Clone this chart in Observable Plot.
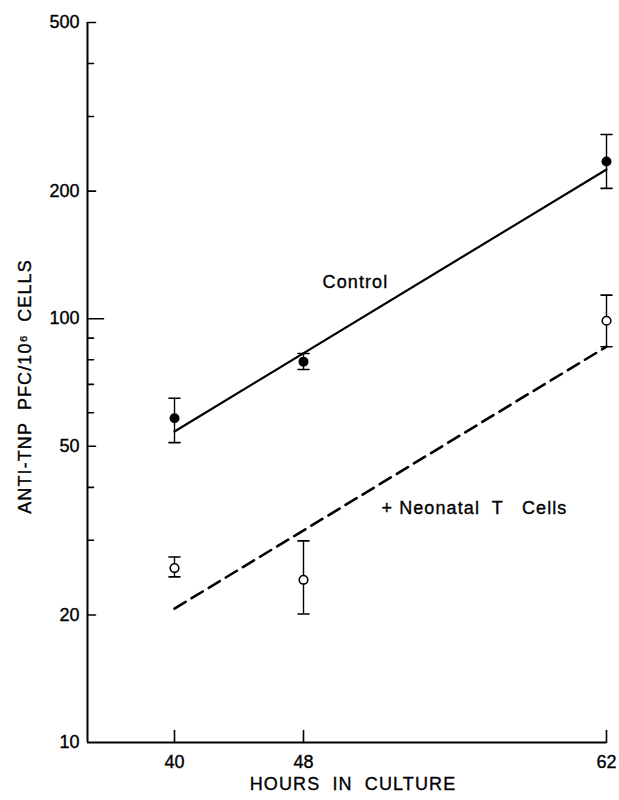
<!DOCTYPE html>
<html><head><meta charset="utf-8">
<script src="https://cdn.jsdelivr.net/npm/d3@7"></script>
<script src="https://cdn.jsdelivr.net/npm/@observablehq/plot@0.6"></script>
<style>
body{margin:0;background:#fff;}
svg text{white-space:pre;stroke:#000;stroke-width:0.35px;}
</style></head><body><div id="chart"></div>
<script>
// Data
const hours = [40, 48, 62];
const controlMean = [58.2, 79.2, 235];
const controlLow = [51.0, 75.9, 203];
const controlHigh = [64.9, 82.8, 272];
const neoMean = [25.8, 24.2, 98.9];
const neoLow = [24.6, 20.1, 85.9];
const neoHigh = [27.4, 29.9, 113.7];
const fitHours = [40, 62];
const controlFit = [54.2, 225];
const neoFit = [20.7, 85.9];
const yTickValues = [10, 20, 50, 100, 200, 500];
const yMinorValues = [30, 40, 60, 70, 80, 90, 300, 400];
const xTickValues = [40, 48, 62];
const xDomain = [34.6, 40, 48, 62];
const controlLabel = "Control";
const neoLabel = "+ Neonatal  T   Cells";
const yTitle = "ANTI-TNP  PFC/10⁶  CELLS";
const xTitle = "HOURS  IN  CULTURE";
const controlLabelAt = {h: 50.4, v: 122};
const neoLabelAt = {h: 51.6, v: 35.7};

const control = hours.map((h, i) => ({h, m: controlMean[i], lo: controlLow[i], hi: controlHigh[i]}));
const neo = hours.map((h, i) => ({h, m: neoMean[i], lo: neoLow[i], hi: neoHigh[i]}));
const bars = control.concat(neo);
const fitC = fitHours.map((h, i) => ({h, v: controlFit[i]}));
const fitN = fitHours.map((h, i) => ({h, v: neoFit[i]}));

const line = {draw(ctx, l) { ctx.moveTo(0, 0); ctx.lineTo(0, -l); }};

const chart = Plot.plot({
  width: 619, height: 800,
  marginLeft: 87, marginRight: 13, marginTop: 22, marginBottom: 58,
  style: {fontFamily: "'Liberation Sans', Arial, sans-serif", fontSize: "18px", color: "#000", background: "#fff"},
  x: {type: "linear", domain: xDomain, range: [87, 174, 303, 606]},
  y: {type: "log", domain: [10, 500]},
  marks: [
    Plot.ruleX([xDomain[0]], {strokeWidth: 2}),
    Plot.ruleY([10], {strokeWidth: 2}),
    Plot.vector(yMinorValues, {y: d => d, frameAnchor: "left", rotate: 90, length: 6, anchor: "start", shape: line, strokeWidth: 1.6}),
    Plot.vector(yTickValues.filter(d => d !== 100 && d !== 10), {y: d => d, frameAnchor: "left", rotate: 90, length: 8, anchor: "start", shape: line, strokeWidth: 1.6}),
    Plot.vector([100], {y: d => d, frameAnchor: "left", rotate: 90, length: 16, anchor: "start", shape: line, strokeWidth: 1.6}),
    Plot.vector(xTickValues, {x: d => d, frameAnchor: "bottom", rotate: 0, length: 12, anchor: "start", shape: line, strokeWidth: 1.6}),
    Plot.axisY({ticks: yTickValues, tickSize: 0, tickPadding: 8, tickFormat: d => String(d), label: null, fontSize: 18}),
    Plot.axisX({ticks: xTickValues, tickSize: 0, tickPadding: 13, tickFormat: d => String(d), label: null, fontSize: 18}),
    Plot.line(fitC, {x: "h", y: "v", strokeWidth: 2.2}),
    Plot.line(fitN, {x: "h", y: "v", strokeWidth: 2.6, strokeDasharray: "13,7"}),
    Plot.ruleX(bars, {x: "h", y1: "lo", y2: "hi", strokeWidth: 1.4}),
    Plot.vector(bars, {x: "h", y: "hi", rotate: 90, length: 11, anchor: "middle", shape: line, strokeWidth: 1.6}),
    Plot.vector(bars, {x: "h", y: "lo", rotate: 90, length: 11, anchor: "middle", shape: line, strokeWidth: 1.6}),
    Plot.dot(control, {x: "h", y: "m", r: 5, fill: "#000"}),
    Plot.dot(neo, {x: "h", y: "m", r: 4.3, fill: "#fff", stroke: "#000", strokeWidth: 1.6}),
    Plot.text([controlLabelAt], {x: "h", y: "v", text: () => controlLabel, textAnchor: "middle", fontSize: 18}),
    Plot.text([neoLabelAt], {x: "h", y: "v", text: () => neoLabel, textAnchor: "start", fontSize: 18}),
    Plot.text([yTitle], {frameAnchor: "left", textAnchor: "middle", dx: -62, dy: 4, rotate: -90, fontSize: 18}),
    Plot.text([xTitle], {frameAnchor: "bottom", textAnchor: "middle", dy: 47, dx: 6, fontSize: 18})
  ]
});
document.getElementById("chart").appendChild(chart);
const spaced = [controlLabel, neoLabel, yTitle, xTitle];
d3.select(chart).selectAll("text")
  .filter(function() { return spaced.includes(this.textContent); })
  .style("letter-spacing", "1.1px");
</script></body></html>
